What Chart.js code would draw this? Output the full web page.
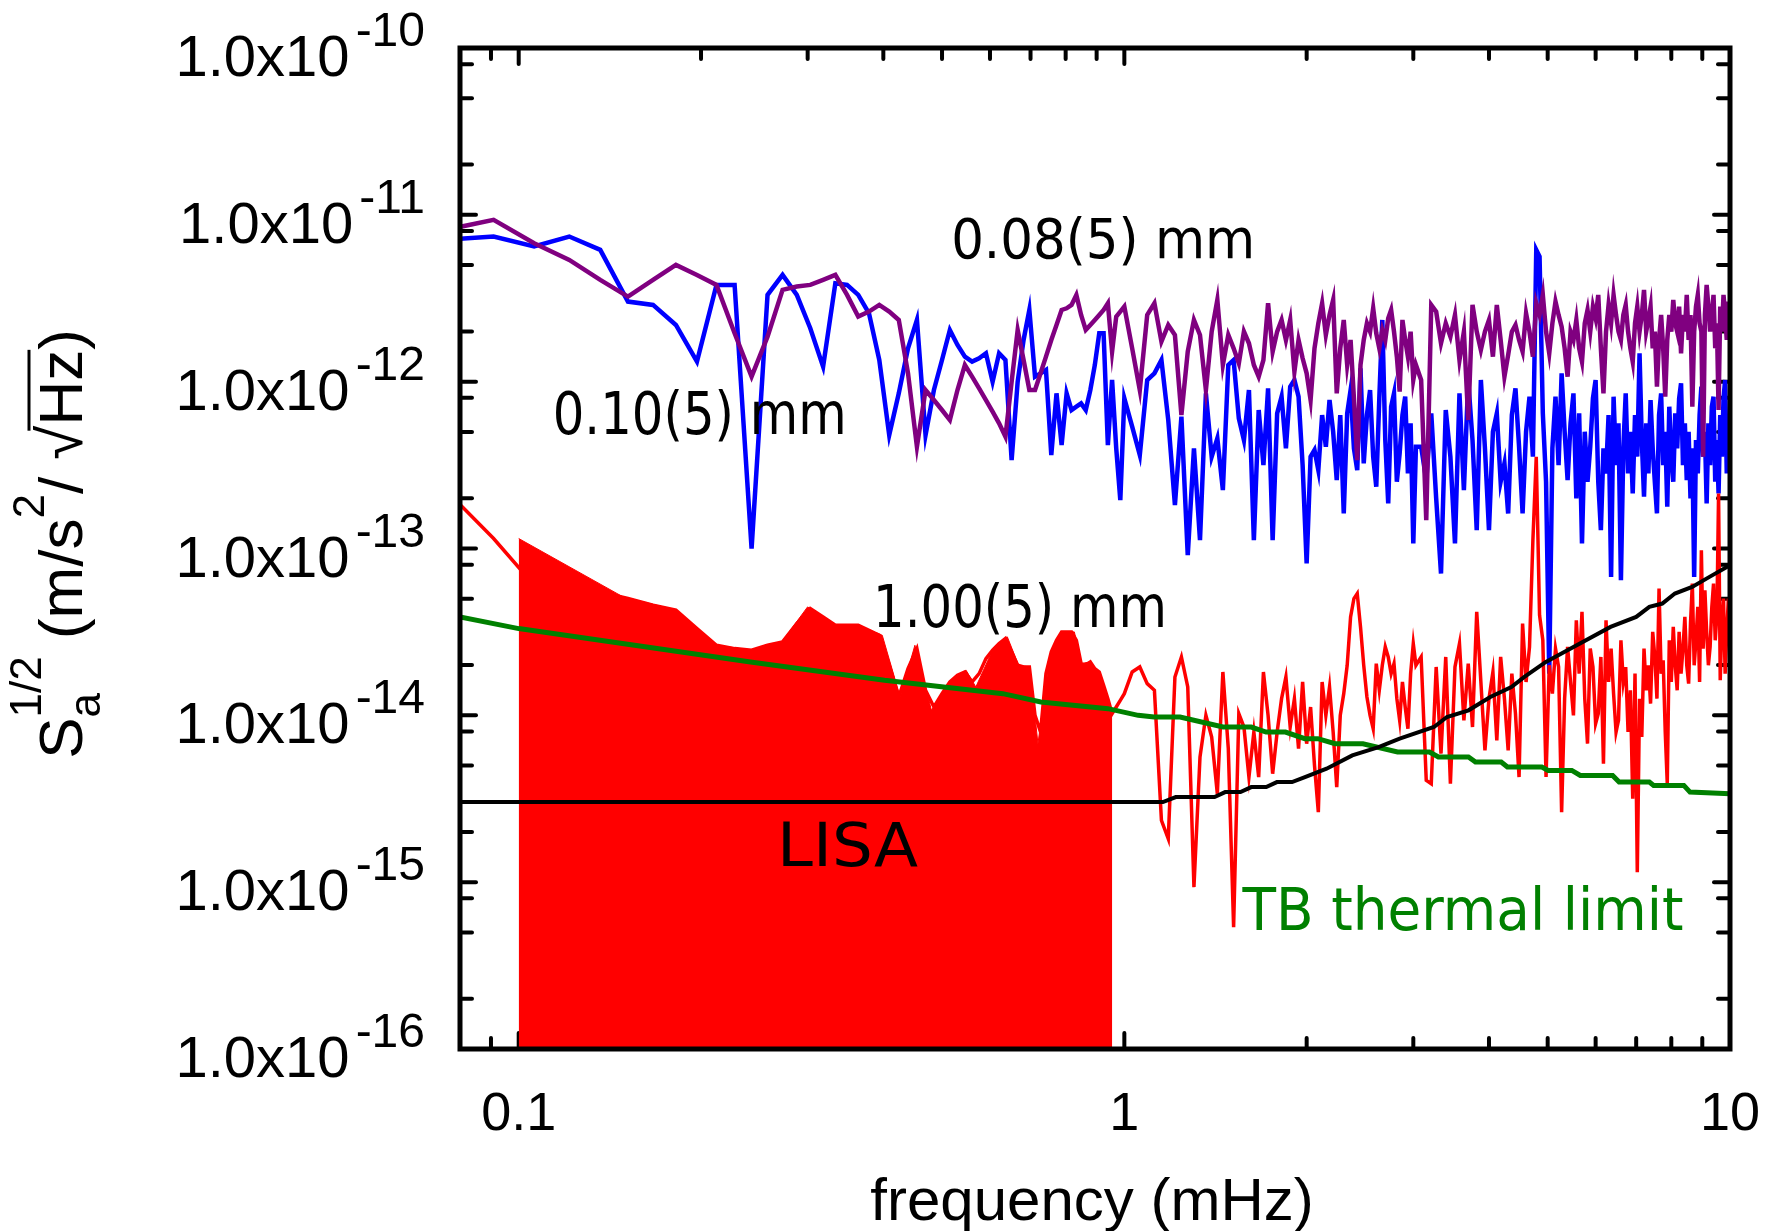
<!DOCTYPE html>
<html>
<head>
<meta charset="utf-8">
<title>Acceleration noise vs frequency</title>
<script src="https://cdn.jsdelivr.net/npm/chart.js@4.4.0/dist/chart.umd.min.js"></script>
<style>
  html, body { margin: 0; padding: 0; background: #fff; }
  #wrap { width: 1774px; height: 1231px; }
</style>
</head>
<body>
<div id="wrap"><canvas id="psd" width="1774" height="1231"></canvas></div>
<script>
/*********************************************
 *  DATA  (values are log10 of S_a^1/2)
 *********************************************/

// FFT bins: frequency = bin * binWidth (mHz); runs of [firstBin, lastBin, step]
const binWidth = 0.01515;
const binRuns = [[5, 66, 1], [68, 200, 2], [204, 660, 4]];

// 0.10(5) mm  (blue)
const blueExp = [
  -11.15, -11.13, -11.19, -11.13, -11.21, -11.52, -11.54, -11.66, -11.88, -11.42,
  -11.42, -13.00, -11.48, -11.36, -11.48, -11.68, -11.91, -11.41, -11.42, -11.48,
  -11.59, -11.87, -12.32, -12.07, -11.80, -11.63, -12.32, -12.05, -11.87, -11.69,
  -11.78, -11.85, -11.88, -11.86, -11.83, -12.00, -11.83, -11.87, -12.47, -12.00,
  -11.75, -11.57, -11.97, -11.95, -11.93, -12.44, -12.07, -12.38, -12.07, -12.17,
  -12.15, -12.13, -12.17, -12.05, -11.90, -11.71, -11.71, -12.38, -11.99, -12.40,
  -12.71, -12.10,
  -12.27, -12.44, -11.99, -11.95, -11.87, -12.23, -12.74, -12.21, -13.04, -12.40,
  -12.95, -12.07, -12.45, -12.34, -12.65, -11.90, -11.87, -12.22, -12.35, -12.05,
  -12.95, -12.17, -12.50, -12.04, -12.95, -12.19, -12.09, -12.40, -12.03, -11.99,
  -12.09, -12.50, -13.09, -12.45, -12.41, -12.53, -12.20, -12.39, -12.11, -12.30,
  -12.59, -12.20, -12.79, -12.19, -12.05, -12.40, -12.53, -11.92, -12.49, -12.20,
  -12.05, -12.45, -12.63, -12.10, -11.63, -12.35, -12.73, -12.15, -12.07, -12.60,
  -12.43, -12.20, -12.09, -12.55, -12.25, -12.97, -12.39,
  -12.39, -12.59, -12.19, -12.70, -13.15, -12.17, -12.45, -12.97, -12.07, -12.65,
  -11.99, -12.35, -12.89, -11.99, -12.40, -12.89, -12.30, -12.19, -12.60, -12.49,
  -12.79, -12.20, -12.04, -12.39, -12.79, -12.30, -12.09, -12.45, -11.21, -11.25,
  -12.19, -12.60, -13.75, -12.40, -12.09, -12.50, -11.95, -12.30, -12.59, -12.25,
  -12.07, -12.70, -12.19, -12.97, -12.30, -12.60, -12.39, -12.10, -11.99, -12.60,
  -12.89, -12.40, -12.55, -12.20, -13.17, -12.09, -12.50, -12.25, -13.19, -12.40,
  -12.07, -12.55, -12.30, -12.67, -12.20, -12.45, -11.83, -12.35, -12.69, -12.25,
  -12.55, -12.11, -12.40, -12.60, -12.79, -12.20, -12.07, -12.50, -12.30, -12.75,
  -12.15, -12.45, -12.60, -12.19, -12.40, -12.10, -12.01, -12.50, -12.25, -12.59,
  -12.30, -12.70, -12.40, -13.17, -12.35, -12.55, -12.20, -12.03, -12.45, -12.30,
  -12.73, -12.25, -12.50, -12.15, -12.09, -12.60, -12.35, -12.67, -12.20, -12.45,
  -12.10, -11.99, -12.55, -12.40, -12.20
];

// 0.08(5) mm  (purple)
const purpleExp = [
  -11.09, -11.03, -11.17, -11.27, -11.39, -11.49, -11.39, -11.30, -11.36, -11.42,
  -11.71, -11.97, -11.73, -11.45, -11.43, -11.42, -11.39, -11.36, -11.48, -11.61,
  -11.58, -11.54, -11.58, -11.63, -11.95, -12.39, -12.05, -12.11, -12.17, -12.23,
  -12.05, -11.90, -11.97, -12.04, -12.11, -12.18, -12.25, -12.33, -12.00, -11.69,
  -11.87, -12.05, -12.05, -11.95, -11.85, -11.75, -11.66, -11.57, -11.56, -11.54,
  -11.48, -11.60, -11.69, -11.66, -11.63, -11.60, -11.57, -11.53, -11.82, -11.61,
  -11.58, -11.55,
  -11.80, -12.05, -11.60, -11.53, -11.76, -11.66, -11.72, -12.20, -11.82, -11.63,
  -11.72, -12.05, -11.70, -11.51, -11.90, -11.72, -11.80, -11.89, -11.70, -11.77,
  -11.90, -11.97, -11.87, -11.53, -11.82, -11.70, -11.63, -11.75, -11.63, -11.94,
  -11.75, -11.86, -11.95, -12.11, -11.80, -11.65, -11.53, -11.72, -11.60, -11.51,
  -12.07, -11.80, -11.63, -11.90, -11.75, -12.10, -12.47, -11.90, -11.75, -11.65,
  -11.70, -11.56, -11.71, -11.80, -11.69, -11.75, -11.62, -11.57, -11.70, -11.85,
  -12.06, -11.63, -11.75, -11.85, -11.70, -11.99, -11.90,
  -11.99, -12.83, -11.54, -11.58, -11.77, -11.65, -11.73, -11.60, -11.87, -11.70,
  -12.23, -11.54, -11.70, -11.81, -11.70, -11.63, -11.85, -11.54, -11.75, -11.97,
  -11.84, -11.70, -11.66, -11.75, -11.82, -11.59, -11.70, -11.85, -11.53, -11.60,
  -11.48, -11.70, -11.83, -11.65, -11.52, -11.60, -11.67, -11.80, -11.97, -11.70,
  -11.75, -11.63, -11.80, -11.88, -11.65, -11.57, -11.70, -11.55, -11.62, -11.48,
  -11.80, -12.07, -11.70, -11.54, -11.65, -11.48, -11.60, -11.70, -11.75, -11.60,
  -11.54, -11.70, -11.80, -11.88, -11.65, -11.55, -11.70, -11.60, -11.45, -11.70,
  -11.63, -11.55, -11.80, -11.70, -12.03, -11.75, -11.60, -11.80, -12.09, -11.75,
  -11.60, -11.70, -11.51, -11.65, -11.70, -11.55, -11.83, -11.60, -11.70, -11.48,
  -11.75, -11.60, -12.15, -11.70, -11.55, -11.48, -11.65, -11.70, -12.45, -11.60,
  -11.42, -11.55, -11.70, -11.60, -11.48, -11.80, -11.65, -12.17, -11.55, -11.70,
  -11.48, -11.60, -11.75, -11.52, -11.65
];

// 1.00(5) mm  (red)
const redExp = [
  -12.65, -12.94, -13.22, -13.20, -13.26, -13.30, -13.34, -13.37, -13.48, -13.58,
  -13.60, -13.61, -13.58, -13.56, -13.45, -13.36, -13.41, -13.46, -13.46, -13.46,
  -13.49, -13.52, -13.70, -13.89, -13.72, -13.60, -13.85, -13.95, -13.87, -13.80,
  -13.76, -13.74, -13.80, -13.75, -13.66, -13.61, -13.57, -13.54, -13.62, -13.70,
  -13.71, -13.71, -14.00, -14.10, -13.75, -13.62, -13.55, -13.50, -13.50, -13.50,
  -13.55, -13.69, -13.70, -13.68, -13.72, -13.74, -13.82, -13.90, -13.99, -13.95,
  -13.91, -13.87,
  -13.74, -13.71, -13.81, -13.85, -14.63, -14.74, -13.77, -13.65, -13.83, -15.03,
  -14.25, -14.00, -14.13, -14.47, -13.74, -14.20, -15.27, -13.99, -14.07, -14.37,
  -14.10, -14.37, -13.74, -14.00, -14.35, -14.10, -13.90, -13.77, -14.07, -13.90,
  -14.20, -13.80, -14.17, -13.95, -14.30, -14.58, -13.80, -14.00, -13.83, -14.10,
  -14.43, -14.00, -13.87, -13.70, -13.41, -13.30, -13.27, -13.47, -13.70, -13.89,
  -14.00, -14.08, -13.69, -13.85, -13.70, -13.59, -13.65, -13.75, -13.69, -13.90,
  -14.03, -13.80, -13.95, -14.08, -13.75, -13.57, -13.70,
  -13.65, -14.39, -14.41, -13.71, -14.23, -13.65, -14.41, -13.71, -13.57, -14.03,
  -13.69, -14.07, -13.38, -13.80, -14.21, -13.90, -13.74, -14.15, -13.65, -13.90,
  -14.21, -13.75, -13.99, -14.37, -13.45, -13.80, -13.59, -12.95, -12.45, -13.40,
  -13.55, -14.37, -13.70, -13.87, -13.60, -13.71, -14.58, -13.90, -13.59, -13.80,
  -14.00, -13.43, -13.75, -13.38, -13.90, -14.17, -13.60, -13.71, -14.05, -13.99,
  -13.65, -14.29, -13.43, -13.80, -13.60, -13.87, -14.10, -14.03, -13.55, -13.80,
  -13.71, -14.10, -13.85, -14.50, -13.75, -14.94, -13.90, -14.13, -13.60, -13.85,
  -13.70, -13.93, -13.50, -13.65, -13.90, -13.24, -13.75, -13.67, -14.10, -14.41,
  -13.55, -13.80, -13.47, -13.70, -13.85, -13.50, -13.75, -13.60, -13.41, -13.70,
  -13.81, -13.45, -13.21, -13.70, -13.55, -13.35, -13.80, -13.01, -13.60, -13.25,
  -13.50, -13.70, -13.59, -13.35, -13.21, -13.55, -13.40, -12.67, -13.79, -13.45,
  -13.30, -13.75, -13.50, -13.30, -13.60
];

// LISA band (filled red area)
const lisaFreq = [0.1, 0.1487, 0.1824, 0.2125, 0.2433, 0.2719, 0.2999, 0.332, 0.3628, 0.3984,
  0.4264, 0.451, 0.4803, 0.5136, 0.548, 0.5686, 0.604, 0.641, 0.669, 0.698,
  0.72, 0.753, 0.786, 0.827, 0.849, 0.875, 0.908, 0.955];
const lisaExp = [-12.94, -13.29, -13.37, -13.58, -13.61, -13.56, -13.35, -13.46, -13.46, -13.52,
  -13.89, -13.58, -13.97, -13.80, -13.73, -13.83, -13.62, -13.53, -13.70, -13.71,
  -14.17, -13.65, -13.50, -13.50, -13.69, -13.68, -13.74, -13.99];

// TB thermal limit (green)
const thermalFreq = [0.08, 0.1, 0.2414, 0.4018, 0.630, 0.728, 0.9395, 1.054, 1.12, 1.236,
  1.455, 1.62, 1.714, 1.845, 1.986, 2.087, 2.228, 2.477, 2.825, 3.19,
  3.30, 3.70, 3.80, 4.19, 4.29, 4.89, 5.01, 5.48, 5.66, 6.40,
  6.56, 7.36, 7.48, 8.39, 8.59, 10];
const thermalExp = [-13.41, -13.48, -13.68, -13.79, -13.87, -13.92, -13.96, -14.00, -14.01, -14.01,
  -14.07, -14.07, -14.10, -14.10, -14.14, -14.14, -14.17, -14.17, -14.22, -14.22,
  -14.25, -14.25, -14.28, -14.28, -14.31, -14.31, -14.33, -14.33, -14.36, -14.36,
  -14.40, -14.40, -14.42, -14.42, -14.46, -14.47];

// black reference curve
const blackFreq = [0.08, 1.158, 1.216, 1.409, 1.467, 1.555, 1.62, 1.715, 1.786, 1.892,
  1.987, 2.157, 2.379, 2.629, 2.848, 3.245, 3.409, 3.70, 4.02, 4.355,
  4.576, 4.966, 5.391, 6.35, 7.0, 7.36, 7.73, 8.11, 8.66, 9.25, 10];
const blackExp = [-14.52, -14.52, -14.49, -14.49, -14.46, -14.46, -14.43, -14.43, -14.40, -14.40,
  -14.37, -14.32, -14.24, -14.19, -14.14, -14.07, -14.01, -13.97, -13.89, -13.83,
  -13.77, -13.68, -13.61, -13.47, -13.41, -13.35, -13.33, -13.27, -13.23, -13.17, -13.10];

// axes
const xRange = [0.08, 10];
const yRange = [1e-16, 1e-10];
const xTickDecades = [0.01, 0.1, 1, 10];
const xTickSteps = [1, 2, 3, 4, 5, 6, 7, 8, 9];
const xTickLabels = ['0.1', '1', '10'];
const yExponents = [-16, -15, -14, -13, -12, -11, -10];
const yMinorSteps = [2, 5, 8];

// text notes: [text, frequency, value]
const notes = [
  ['0.08(5) mm', 0.5176, 5.5e-12],
  ['0.10(5) mm', 0.1138, 4.85e-13],
  ['1.00(5) mm', 0.3846, 3.38e-14],
  ['LISA', 0.2670, 1.25e-15],
  ['TB thermal limit', 1.567, 5.2e-16]
];

/*********************************************
 *  BUILD POINTS
 *********************************************/
const binFreq = [];
binRuns.forEach(([from, to, step]) => {
  for (let k = from; k <= to; k += step) binFreq.push(k * binWidth);
});

const toPoints = (freqs, exps) => freqs.map((f, i) => ({ x: f, y: Math.pow(10, exps[i]) }));

/*********************************************
 *  DRAW HELPERS (frame, ticks, labels)
 *********************************************/
const LABEL_FONT = '58px "Liberation Sans", Arial, sans-serif';
const SUP_FONT = '48px "Liberation Sans", Arial, sans-serif';
const NOTE_FONT = '"DejaVu Sans", sans-serif';

function seg(ctx, x1, y1, x2, y2) {
  ctx.beginPath();
  ctx.moveTo(x1, y1);
  ctx.lineTo(x2, y2);
  ctx.stroke();
}

// draw text stretched to an exact width
function fitText(ctx, text, x, y, width) {
  const natural = ctx.measureText(text).width;
  ctx.save();
  ctx.translate(x, y);
  ctx.scale(width / natural, 1);
  ctx.fillText(text, 0, 0);
  ctx.restore();
}

function drawYTitle(ctx, centerY, base) {
  const big = '62px "Liberation Sans", Arial, sans-serif';
  const small = '44px "Liberation Sans", Arial, sans-serif';
  const w = (t, f) => { ctx.font = f; return ctx.measureText(t).width; };

  const stackW = Math.max(w('a', small), w('1/2', small));
  const total = w('S', big) + stackW + w(' (m/s', big) + w('2', small) +
    w('/ ', big) + w('\u221A', big) + w('Hz', big) + w(')', big);

  ctx.save();
  ctx.translate(0, centerY);
  ctx.rotate(-Math.PI / 2);
  ctx.fillStyle = '#000';
  ctx.textAlign = 'left';
  let x = -total / 2;

  ctx.font = big; ctx.fillText('S', x, base); x += w('S', big);
  ctx.font = small;
  ctx.fillText('a', x, base + 18);
  ctx.fillText('1/2', x, base - 41);
  x += stackW;
  ctx.font = big; ctx.fillText(' (m/s', x, base); x += w(' (m/s', big);
  ctx.font = small; ctx.fillText('2', x, base - 38); x += w('2', small);
  ctx.font = big; ctx.fillText('/ ', x, base); x += w('/ ', big);
  const rootW = w('\u221A', big);
  ctx.font = big; ctx.fillText('\u221A', x, base);
  const barStart = x + rootW * 0.85;
  x += rootW;
  ctx.fillText('Hz', x, base); x += w('Hz', big);
  ctx.lineWidth = 3;
  ctx.strokeStyle = '#000';
  seg(ctx, barStart, base - 53, x, base - 53);
  ctx.font = big; ctx.fillText(')', x, base);
  ctx.restore();
}

const axisDecor = {
  id: 'axisDecor',
  beforeDatasetsDraw(chart) {
    const { ctx, chartArea: a, scales: { x, y } } = chart;
    ctx.save();
    ctx.strokeStyle = '#000';
    ctx.lineWidth = 4;
    ctx.lineCap = 'round';

    xTickDecades.forEach(d => {
      xTickSteps.forEach(m => {
        const v = d * m;
        if (v < x.min * 0.999 || v > x.max * 1.001) return;
        const px = x.getPixelForValue(v);
        const len = m === 1 ? 16 : 11;
        seg(ctx, px, a.bottom, px, a.bottom - len);
        seg(ctx, px, a.top, px, a.top + len);
      });
    });

    yExponents.forEach((e, i) => {
      const major = Math.pow(10, e);
      const py = y.getPixelForValue(major);
      seg(ctx, a.left, py, a.left + 16, py);
      seg(ctx, a.right, py, a.right - 16, py);
      if (i === yExponents.length - 1) return;
      yMinorSteps.forEach(m => {
        const p = y.getPixelForValue(m * major);
        seg(ctx, a.left, p, a.left + 12, p);
        seg(ctx, a.right, p, a.right - 12, p);
      });
    });
    ctx.restore();
  },

  afterDatasetsDraw(chart) {
    const { ctx, chartArea: a, scales: { x, y } } = chart;
    ctx.save();

    // frame
    ctx.strokeStyle = '#000';
    ctx.lineWidth = 5;
    ctx.lineJoin = 'miter';
    ctx.strokeRect(a.left, a.top, a.right - a.left, a.bottom - a.top);

    // y tick labels  1.0x10^-N
    ctx.fillStyle = '#000';
    ctx.textBaseline = 'alphabetic';
    yExponents.forEach(e => {
      const py = y.getPixelForValue(Math.pow(10, e));
      const sup = String(e);
      ctx.font = SUP_FONT;
      const sw = ctx.measureText(sup).width;
      const supX = a.left - 35 - sw;
      ctx.textAlign = 'left';
      ctx.fillText(sup, supX, py - 2);
      ctx.font = LABEL_FONT;
      ctx.textAlign = 'right';
      ctx.fillText('1.0x10', supX - 6, py + 28);
    });

    // x tick labels
    ctx.font = '54px "Liberation Sans", Arial, sans-serif';
    ctx.textAlign = 'center';
    xTickLabels.forEach(t => {
      ctx.fillText(t, x.getPixelForValue(parseFloat(t)), a.bottom + 81);
    });

    // axis titles
    ctx.font = '60px "Liberation Sans", Arial, sans-serif';
    ctx.fillText('frequency (mHz)', (a.left + a.right) / 2 - 3, a.bottom + 171);
    drawYTitle(ctx, 544, 82);

    // in-plot notes
    ctx.textAlign = 'left';
    const noteStyle = {
      '0.08(5) mm': [56, 304, '#000'],
      '0.10(5) mm': [58, 294, '#000'],
      '1.00(5) mm': [58, 294, '#000'],
      'LISA': [60, 141, '#000'],
      'TB thermal limit': [58, 441, '#008000']
    };
    notes.forEach(([text, f, v]) => {
      const [size, width, color] = noteStyle[text];
      ctx.font = size + 'px ' + NOTE_FONT;
      ctx.fillStyle = color;
      fitText(ctx, text, x.getPixelForValue(f), y.getPixelForValue(v), width);
    });

    ctx.restore();
  }
};

/*********************************************
 *  CHART
 *********************************************/
const line = (label, pts, color, width, order) => ({
  label,
  data: pts,
  borderColor: color,
  backgroundColor: color,
  borderWidth: width,
  pointRadius: 0,
  tension: 0,
  fill: false,
  order
});

const lisaBand = line('LISA', toPoints(lisaFreq, lisaExp), '#ff0000', 1, 5);
lisaBand.fill = 'start';

new Chart(document.getElementById('psd'), {
  type: 'line',
  data: {
    datasets: [
      line('reference', toPoints(blackFreq, blackExp), '#000000', 4, 0),
      line('TB thermal limit', toPoints(thermalFreq, thermalExp), '#008000', 5, 1),
      line('1.00(5) mm', toPoints(binFreq, redExp), '#ff0000', 3.5, 2),
      line('0.08(5) mm', toPoints(binFreq, purpleExp), '#800080', 4.5, 3),
      line('0.10(5) mm', toPoints(binFreq, blueExp), '#0000ff', 4.5, 4),
      lisaBand
    ]
  },
  options: {
    responsive: false,
    animation: false,
    devicePixelRatio: 1,
    layout: { padding: { left: 460, top: 48, right: 44, bottom: 182 } },
    plugins: {
      legend: { display: false },
      tooltip: { enabled: false }
    },
    scales: {
      x: { type: 'logarithmic', min: xRange[0], max: xRange[1], display: false },
      y: { type: 'logarithmic', min: yRange[0], max: yRange[1], display: false }
    }
  },
  plugins: [axisDecor]
});
</script>
</body>
</html>
